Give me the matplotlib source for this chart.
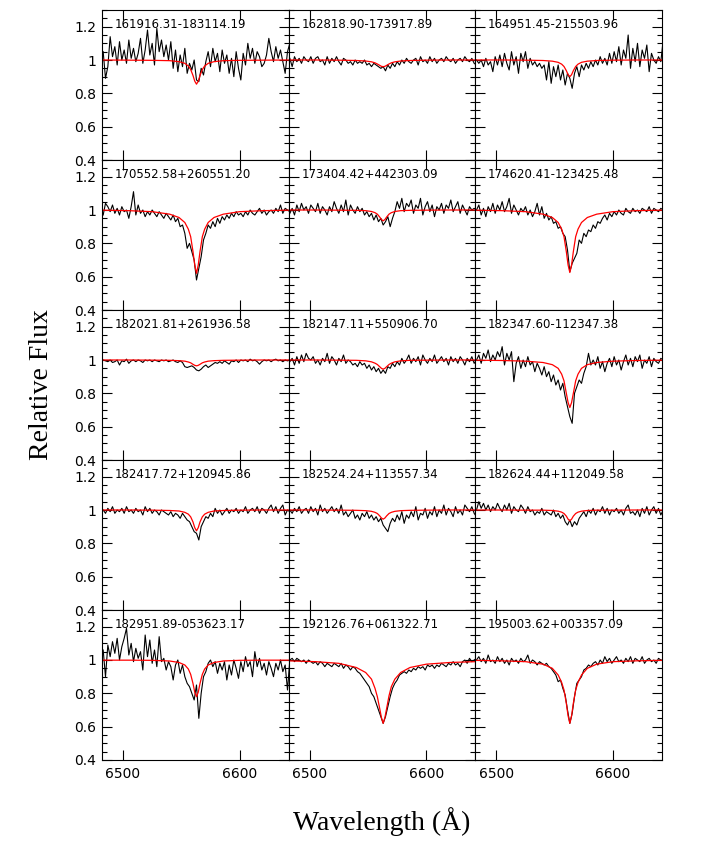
import numpy as np
import matplotlib
matplotlib.use('Agg')
import matplotlib.pyplot as plt
from matplotlib.ticker import MultipleLocator, FuncFormatter

# object names, row by row
names = ['161916.31-183114.19', '162818.90-173917.89', '164951.45-215503.96',
         '170552.58+260551.20', '173404.42+442303.09', '174620.41-123425.48',
         '182021.81+261936.58', '182147.11+550906.70', '182347.60-112347.38',
         '182417.72+120945.86', '182524.24+113557.34', '182624.44+112049.58',
         '182951.89-053623.17', '192126.76+061322.71', '195003.62+003357.09']

# observed spectra, sampled every 2 A from 6483 A
wave = np.arange(6483, 6644, 2)

flux = [
 [1.05, 0.89, 0.96, 1.14, 1.02, 1.08, 0.97, 1.11, 1.00, 1.06,
  0.98, 1.12, 1.01, 1.07, 0.99, 1.04, 1.13, 0.98, 1.06, 1.18,
  1.03, 1.10, 0.97, 1.19, 1.05, 1.12, 1.02, 1.09, 1.00, 1.11,
  0.95, 1.06, 0.93, 1.03, 0.96, 1.07, 0.92, 0.98, 0.94, 1.00,
  0.88, 0.87, 0.95, 0.91, 0.99, 1.05, 0.96, 1.07, 0.99, 1.04,
  0.93, 1.06, 0.98, 1.03, 0.92, 1.01, 0.90, 1.05, 0.95, 0.88,
  1.04, 0.97, 1.10, 1.01, 1.07, 0.98, 1.05, 1.02, 0.96, 0.98,
  1.03, 1.13, 1.05, 0.99, 1.08, 1.01, 1.06, 0.99, 0.92, 1.05, 1.10],
 [1.01, 0.96, 1.02, 0.99, 1.01, 0.98, 1.02, 1.00, 0.99, 1.02,
  0.98, 1.01, 1.02, 0.99, 1.00, 0.97, 1.02, 0.98, 1.01, 0.99,
  1.02, 0.99, 0.97, 1.01, 1.00, 0.98, 0.99, 0.97, 1.00, 0.98,
  0.99, 0.98, 1.00, 0.97, 0.98, 0.96, 0.98, 0.97, 0.96, 0.95,
  0.96, 0.935, 0.97, 0.95, 0.98, 0.96, 0.99, 0.97, 1.00, 0.98,
  1.01, 0.99, 0.98, 1.00, 1.01, 0.97, 1.02, 0.99, 1.00, 0.98,
  1.02, 0.99, 1.01, 0.98, 1.00, 1.01, 0.99, 1.02, 1.00, 0.99,
  1.01, 0.98, 1.00, 1.01, 0.99, 1.02, 1.00, 0.99, 1.01, 0.98, 0.97],
 [1.00, 0.98, 1.00, 0.96, 1.01, 0.97, 0.99, 0.93, 1.02, 0.97,
  1.03, 0.96, 1.04, 0.98, 0.94, 1.05, 0.97, 1.02, 0.92, 1.04,
  0.99, 1.05, 0.95, 1.01, 0.97, 0.99, 0.96, 0.98, 0.95, 0.97,
  0.88, 0.99, 0.86, 0.96, 0.90, 0.97, 0.88, 0.94, 0.85, 0.92,
  0.89, 0.83, 0.92, 0.96, 0.90, 0.97, 0.94, 0.98, 0.95, 0.99,
  0.96, 1.00, 0.97, 1.02, 0.98, 1.01, 0.97, 1.04, 0.98, 1.05,
  0.99, 1.08, 0.97, 1.06, 1.01, 1.15, 0.95, 1.07, 0.99, 1.10,
  0.96, 1.06, 1.01, 1.09, 0.93, 1.04, 1.00, 0.98, 1.02, 0.99, 1.12],
 [0.97, 1.04, 1.02, 0.99, 1.03, 0.98, 1.01, 0.97, 1.02, 0.99,
  1.00, 0.95, 1.02, 1.11, 0.97, 1.03, 0.98, 1.00, 0.96, 0.99,
  0.97, 1.00, 0.98, 0.96, 0.99, 0.97, 0.95, 0.98, 0.96, 0.94,
  0.97, 0.93, 0.95, 0.90, 0.91, 0.86, 0.77, 0.80, 0.75, 0.70,
  0.58, 0.65, 0.72, 0.82, 0.86, 0.91, 0.89, 0.93, 0.90, 0.95,
  0.92, 0.96, 0.94, 0.97, 0.95, 0.98, 0.96, 0.99, 0.97, 0.98,
  0.96, 0.99, 0.97, 1.00, 0.98, 0.97, 0.99, 1.01, 0.98, 1.00,
  0.97, 0.99, 1.00, 0.98, 1.01, 0.99, 1.03, 0.98, 1.01, 1.00, 0.99],
 [0.98, 1.01, 0.97, 1.03, 0.99, 1.04, 1.00, 1.02, 0.98, 1.03,
  1.01, 0.99, 1.04, 0.98, 1.02, 1.00, 0.97, 1.02, 0.99, 1.05,
  1.01, 0.98, 1.03, 0.99, 1.06, 0.97, 1.03, 1.00, 0.98, 1.02,
  0.99, 1.01, 0.97, 0.99, 0.96, 0.98, 0.94, 0.97, 0.93, 0.95,
  0.91, 0.93, 0.96, 0.90, 0.95, 0.99, 1.05, 1.01, 1.07, 0.99,
  1.04, 1.02, 1.06, 0.98, 1.03, 1.01, 1.07, 0.97, 1.02, 1.05,
  0.99, 1.03, 0.96, 1.02, 1.00, 1.04, 0.98, 1.03, 1.01, 1.06,
  0.99, 1.02, 1.05, 0.98, 1.03, 1.00, 0.97, 1.02, 1.00, 1.01, 1.00],
 [1.00, 1.03, 0.97, 1.01, 0.96, 1.02, 0.99, 1.04, 0.98, 1.03,
  1.00, 1.05, 0.99, 1.02, 1.07, 0.98, 1.03, 1.00, 0.97, 1.01,
  0.99, 1.02, 0.97, 1.00, 0.96, 0.99, 1.04, 0.97, 1.02, 0.95,
  0.98, 0.94, 0.96, 0.92, 0.93, 0.89, 0.90, 0.86, 0.84, 0.76,
  0.63, 0.68, 0.71, 0.74, 0.82, 0.80, 0.86, 0.84, 0.88, 0.87,
  0.91, 0.89, 0.93, 0.92, 0.95, 0.97, 0.94, 0.98, 0.96, 0.99,
  0.97, 1.00, 0.98, 0.97, 1.01, 0.99, 0.98, 1.01, 0.99, 1.00,
  0.98, 1.01, 1.00, 0.99, 1.02, 0.98, 1.01, 1.00, 0.99, 1.01, 1.00],
 [1.00, 0.995, 0.99, 1.00, 0.985, 0.99, 1.00, 0.97, 0.995, 0.99,
  1.005, 0.98, 0.995, 1.00, 0.99, 1.00, 0.995, 0.985, 1.00, 0.995,
  1.00, 0.99, 1.00, 0.995, 0.99, 1.00, 0.995, 1.00, 0.99, 0.995,
  1.00, 0.99, 0.985, 0.995, 0.985, 0.96, 0.955, 0.96, 0.965, 0.955,
  0.94, 0.935, 0.945, 0.96, 0.97, 0.955, 0.965, 0.975, 0.985, 0.98,
  0.99, 0.98, 0.995, 0.985, 0.975, 0.995, 0.99, 1.00, 0.985, 1.00,
  0.995, 1.00, 0.99, 1.005, 0.995, 1.00, 0.99, 0.975, 0.99, 1.00,
  0.995, 1.00, 0.99, 1.00, 1.005, 0.995, 1.00, 0.99, 1.00, 0.995, 1.00],
 [0.99, 1.01, 0.97, 1.02, 0.98, 1.03, 0.99, 1.04, 1.01, 1.00,
  1.02, 0.98, 1.00, 0.97, 1.01, 0.99, 1.04, 0.98, 1.02, 1.00,
  0.97, 1.01, 0.99, 1.03, 0.98, 1.00, 0.99, 0.97, 0.98, 0.96,
  0.99, 0.97, 0.98, 0.95, 0.97, 0.94, 0.96, 0.93, 0.95, 0.92,
  0.94, 0.92, 0.96, 0.95, 0.98, 0.96, 0.99, 0.97, 1.01, 0.98,
  1.00, 1.03, 0.98, 1.01, 0.99, 1.02, 0.97, 1.03, 1.00, 0.98,
  1.01, 0.99, 1.03, 0.98, 1.00, 1.02, 0.99, 1.01, 0.97, 1.02,
  0.99, 1.01, 0.98, 1.02, 1.00, 0.97, 1.01, 0.99, 1.02, 0.98, 1.00],
 [1.00, 1.03, 0.98, 1.04, 1.01, 1.06, 0.99, 1.03, 1.00, 1.05,
  1.02, 1.08, 0.97, 1.04, 1.00, 1.05, 0.87, 0.98, 1.02, 0.95,
  1.00, 0.96, 1.02, 0.97, 0.99, 0.93, 0.98, 0.95, 0.91, 0.96,
  0.90, 0.93, 0.87, 0.91, 0.85, 0.88, 0.82, 0.86, 0.78, 0.72,
  0.66, 0.62, 0.80, 0.84, 0.88, 0.86, 0.92, 0.96, 1.04, 0.97,
  1.00, 0.97, 1.02, 0.95, 0.99, 0.93, 0.98, 1.01, 0.96, 1.02,
  0.97, 1.00, 0.94, 0.99, 1.03, 0.97, 1.01, 0.96, 1.02, 0.99,
  1.03, 0.95, 1.00, 0.98, 1.02, 0.96, 1.01, 0.99, 0.98, 1.01, 1.00],
 [1.00, 0.98, 1.01, 0.99, 1.02, 0.98, 1.00, 0.99, 1.01, 0.98,
  1.02, 0.99, 1.00, 0.98, 1.01, 0.99, 1.00, 0.97, 1.02, 0.99,
  1.01, 0.98, 1.00, 0.99, 0.97, 1.00, 0.99, 0.98, 0.97, 0.99,
  0.96, 0.98, 0.97, 0.95, 0.98, 0.96, 0.94, 0.93, 0.90, 0.87,
  0.86, 0.82, 0.90, 0.93, 0.96, 0.95, 0.98, 0.96, 1.01, 0.98,
  1.00, 0.97, 0.99, 1.01, 0.98, 1.00, 0.99, 1.01, 0.98, 1.00,
  0.99, 1.02, 0.98, 1.00, 1.01, 0.99, 1.02, 0.98, 1.01, 1.00,
  0.98, 1.01, 1.03, 0.99, 1.02, 0.98, 1.01, 1.03, 0.97, 1.00, 0.99],
 [1.00, 0.98, 1.01, 0.99, 1.02, 0.98, 1.00, 1.01, 0.98, 1.02,
  0.99, 1.01, 0.97, 1.03, 0.99, 1.01, 0.98, 1.00, 1.02, 0.99,
  1.01, 0.98, 1.03, 0.97, 0.99, 0.96, 0.98, 1.00, 0.95, 0.97,
  0.94, 0.98, 0.96, 0.99, 0.95, 0.97, 0.94, 0.96, 0.93, 0.95,
  0.91, 0.89, 0.87, 0.92, 0.95, 0.93, 0.97, 0.94, 0.99, 0.92,
  0.97, 0.95, 0.99, 0.96, 1.02, 0.94, 0.98, 0.97, 1.01, 0.95,
  0.99, 0.97, 1.02, 0.96, 1.00, 0.98, 1.03, 0.97, 1.01, 0.99,
  0.96, 1.02, 0.98, 1.00, 0.97, 1.03, 1.01, 0.99, 1.02, 0.98, 0.96],
 [1.00, 1.05, 1.01, 1.04, 1.00, 1.03, 0.99, 1.02, 1.00, 1.04,
  1.01, 0.99, 1.03, 1.00, 1.04, 0.98, 1.02, 1.00, 0.99, 1.03,
  1.01, 0.98, 1.02, 0.99, 1.00, 0.97, 0.99, 0.98, 1.01, 0.97,
  0.99, 0.98, 0.97, 1.00, 0.96, 0.98, 0.95, 0.97, 0.93, 0.91,
  0.94, 0.90, 0.93, 0.91, 0.95, 0.97, 0.99, 0.96, 1.00, 0.98,
  1.01, 0.97, 1.00, 0.99, 1.02, 0.98, 1.01, 0.97, 1.00, 0.99,
  1.01, 0.98, 1.00, 0.97, 1.01, 1.03, 0.98, 0.99, 0.97, 1.00,
  0.96, 1.01, 0.98, 1.02, 0.97, 1.00, 1.02, 0.98, 1.01, 0.97, 1.00],
 [1.06, 0.90, 1.09, 1.02, 1.11, 1.04, 1.13, 1.00, 1.08, 1.13,
  1.19, 1.03, 1.10, 0.99, 1.07, 1.01, 1.05, 0.94, 1.15, 1.02,
  1.12, 0.98, 1.06, 0.96, 1.14, 0.99, 1.01, 0.94, 0.99, 0.96,
  0.88, 0.97, 1.00, 0.92, 0.97, 0.90, 0.86, 0.84, 0.80, 0.76,
  0.85, 0.65, 0.80, 0.90, 0.93, 0.98, 1.00, 0.96, 0.99, 0.92,
  0.98, 0.94, 0.99, 0.88, 0.97, 0.91, 1.00, 0.95, 0.89, 0.99,
  0.93, 1.02, 0.96, 0.99, 0.90, 1.05, 0.96, 1.01, 0.94, 0.98,
  0.91, 0.99, 0.95, 0.90, 0.98, 0.94, 1.00, 0.93, 0.97, 0.82, 1.00],
 [1.00, 1.01, 0.99, 1.01, 1.00, 0.99, 1.00, 0.98, 1.00, 0.99,
  0.98, 0.99, 0.97, 0.99, 0.98, 0.96, 0.98, 0.97, 0.96, 0.98,
  0.97, 0.96, 0.98, 0.95, 0.97, 0.96, 0.94, 0.96, 0.95, 0.93,
  0.92, 0.90, 0.88, 0.86, 0.84, 0.80, 0.78, 0.74, 0.70, 0.66,
  0.62, 0.66, 0.72, 0.78, 0.83, 0.86, 0.88, 0.91, 0.92, 0.93,
  0.92, 0.94, 0.93, 0.95, 0.94, 0.96, 0.95, 0.96, 0.94, 0.97,
  0.96, 0.97, 0.95, 0.97, 0.96, 0.98, 0.97, 0.96, 0.98, 0.97,
  0.99, 0.97, 0.98, 0.96, 0.99, 1.00, 0.98, 1.01, 0.99, 1.00, 1.01],
 [1.00, 1.02, 0.99, 1.01, 0.98, 1.03, 0.99, 1.00, 0.98, 1.02,
  0.99, 1.01, 0.98, 1.00, 0.97, 1.01, 0.99, 1.00, 0.98, 1.01,
  0.99, 1.00, 1.03, 0.98, 1.00, 0.99, 0.97, 0.99, 0.98, 0.97,
  0.98, 0.96, 0.95, 0.93, 0.91, 0.87, 0.88, 0.83, 0.79, 0.70,
  0.62, 0.68, 0.78, 0.86, 0.88, 0.90, 0.94, 0.95, 0.97, 0.96,
  0.98, 0.99, 0.97, 1.00, 0.98, 1.02, 0.99, 1.01, 0.98, 1.00,
  1.02, 0.99, 1.00, 0.98, 1.01, 0.99, 1.02, 0.98, 1.01, 1.00,
  0.99, 1.02, 0.98, 1.00, 1.01, 0.99, 1.00, 0.98, 1.01, 1.00, 1.00],
]

# fitted line profiles (red)
model_wave = [6482, 6505, 6525, 6540, 6548, 6553, 6556, 6558, 6560, 6561.5, 6563,
              6564.5, 6566, 6568, 6570, 6573, 6578, 6586, 6600, 6620, 6642]

model = [
 [1.000, 0.999, 0.998, 0.996, 0.990, 0.980, 0.964, 0.943, 0.907, 0.873, 0.855, 0.873, 0.907, 0.943, 0.964, 0.980, 0.990, 0.996, 0.998, 0.999, 1.000],
 [1.000, 1.000, 0.999, 0.997, 0.994, 0.989, 0.983, 0.976, 0.968, 0.962, 0.960, 0.962, 0.968, 0.976, 0.983, 0.989, 0.994, 0.997, 0.999, 1.000, 1.000],
 [1.000, 1.000, 0.999, 0.997, 0.993, 0.986, 0.975, 0.961, 0.936, 0.912, 0.900, 0.912, 0.936, 0.961, 0.975, 0.986, 0.993, 0.997, 0.999, 1.000, 1.000],
 [0.999, 0.996, 0.990, 0.975, 0.955, 0.925, 0.885, 0.840, 0.750, 0.670, 0.620, 0.670, 0.750, 0.840, 0.885, 0.925, 0.955, 0.975, 0.990, 0.996, 0.999],
 [1.000, 1.000, 0.999, 0.998, 0.996, 0.991, 0.984, 0.975, 0.958, 0.943, 0.935, 0.943, 0.958, 0.975, 0.984, 0.991, 0.996, 0.998, 0.999, 1.000, 1.000],
 [0.999, 0.996, 0.990, 0.975, 0.955, 0.925, 0.885, 0.840, 0.750, 0.670, 0.625, 0.670, 0.750, 0.840, 0.885, 0.925, 0.955, 0.975, 0.990, 0.996, 0.999],
 [1.000, 1.000, 0.999, 0.998, 0.996, 0.993, 0.988, 0.983, 0.974, 0.968, 0.965, 0.968, 0.974, 0.983, 0.988, 0.993, 0.996, 0.998, 0.999, 1.000, 1.000],
 [1.000, 1.000, 0.999, 0.998, 0.995, 0.989, 0.981, 0.973, 0.960, 0.950, 0.945, 0.950, 0.960, 0.973, 0.981, 0.989, 0.995, 0.998, 0.999, 1.000, 1.000],
 [0.999, 0.997, 0.993, 0.985, 0.972, 0.950, 0.915, 0.875, 0.800, 0.745, 0.715, 0.745, 0.800, 0.875, 0.915, 0.950, 0.972, 0.985, 0.993, 0.997, 0.999],
 [1.000, 1.000, 0.999, 0.997, 0.994, 0.986, 0.975, 0.959, 0.928, 0.894, 0.875, 0.894, 0.928, 0.959, 0.975, 0.986, 0.994, 0.997, 0.999, 1.000, 1.000],
 [1.000, 1.000, 0.999, 0.998, 0.996, 0.992, 0.986, 0.979, 0.965, 0.952, 0.945, 0.952, 0.965, 0.979, 0.986, 0.992, 0.996, 0.998, 0.999, 1.000, 1.000],
 [1.000, 1.000, 0.999, 0.999, 0.997, 0.993, 0.987, 0.979, 0.963, 0.945, 0.935, 0.945, 0.963, 0.979, 0.987, 0.993, 0.997, 0.999, 0.999, 1.000, 1.000],
 [0.999, 0.999, 0.998, 0.994, 0.985, 0.970, 0.946, 0.914, 0.859, 0.807, 0.780, 0.807, 0.859, 0.914, 0.946, 0.970, 0.985, 0.994, 0.998, 0.999, 0.999],
 [0.995, 0.990, 0.980, 0.955, 0.925, 0.885, 0.830, 0.780, 0.710, 0.655, 0.620, 0.655, 0.710, 0.785, 0.840, 0.885, 0.925, 0.955, 0.975, 0.985, 0.990],
 [0.998, 0.995, 0.990, 0.975, 0.950, 0.910, 0.865, 0.820, 0.740, 0.665, 0.620, 0.665, 0.740, 0.820, 0.865, 0.910, 0.950, 0.975, 0.990, 0.995, 0.998],
]

fig, axes = plt.subplots(5, 3, sharex=True, sharey=True, figsize=(7.02, 8.59), dpi=100)
fig.subplots_adjust(left=102/702, right=662/702, top=1-10/859, bottom=1-760/859,
                    hspace=0, wspace=0)

for k, ax in enumerate(axes.flat):
    ax.plot(wave, flux[k], color='black', lw=0.8)
    ax.plot(model_wave, model[k], color='red', lw=0.9)
    ax.text(0.068, 0.905, names[k], transform=ax.transAxes, fontsize=8.5, va='center')
    ax.set_xlim(6482, 6642)
    ax.set_ylim(0.4, 1.3)
    ax.xaxis.set_major_locator(MultipleLocator(100))
    ax.yaxis.set_major_locator(MultipleLocator(0.2))
    ax.yaxis.set_minor_locator(MultipleLocator(0.05))
    ax.yaxis.set_major_formatter(FuncFormatter(lambda v, p: '%g' % round(v, 2)))
    ax.tick_params(which='both', direction='in', top=True, right=True, width=0.8, labelsize=10)
    ax.tick_params(which='major', length=7)
    ax.tick_params(which='minor', length=3.5)
    ax.tick_params(axis='y', pad=4)
    ax.tick_params(axis='x', pad=5)
    for s in ax.spines.values():
        s.set_linewidth(0.8)

fig.text(42/702, 1-385/859, 'Relative Flux', rotation=90, ha='center', va='center',
         family='Liberation Serif', fontsize=20)
fig.text(382/702, 1-822/859, 'Wavelength (Å)', ha='center', va='center',
         family='Liberation Serif', fontsize=20)

plt.savefig('out.png')
